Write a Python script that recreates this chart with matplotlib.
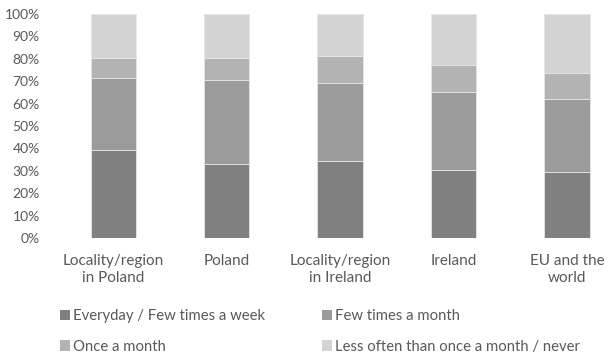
import matplotlib.pyplot as plt
from matplotlib.patches import Patch

categories = ["Locality/region\nin Poland", "Poland", "Locality/region\nin Ireland", "Ireland", "EU and the\nworld"]
everyday = [39.1, 32.9, 34.2, 30.5, 29.6]
few_month = [32.2, 37.8, 34.8, 34.5, 32.3]
once_month = [9.1, 9.7, 12.4, 12.2, 11.9]
less_often = [19.6, 19.6, 18.6, 22.8, 26.2]
series_names = ["Everyday / Few times a week", "Few times a month",
                "Once a month", "Less often than once a month / never"]
colors = ["#808080", "#9b9b9b", "#b3b3b3", "#d3d3d3"]

plt.rcParams['font.family'] = ['Lato', 'DejaVu Sans']
text_col = "#595959"

fig = plt.figure(figsize=(6.1, 3.57), dpi=100)
ax = fig.add_axes([56.5 / 610, 1 - 238 / 357, 1 - 56.5 / 610, 224 / 357])

x = list(range(len(categories)))
bottom = [0] * len(categories)
for vals, col in zip([everyday, few_month, once_month, less_often], colors):
    ax.bar(x, vals, width=0.40, bottom=bottom, color=col, edgecolor="#e6e6e6", linewidth=0.6)
    bottom = [b + v for b, v in zip(bottom, vals)]

ax.set_xlim(-0.5, 4.38)
ax.set_ylim(0, 100)
ax.set_yticks(range(0, 101, 10))
ax.set_yticklabels([f"{t}%" for t in range(0, 101, 10)], color=text_col, fontsize=10)
ax.set_xticks(x)
ax.set_xticklabels(categories, color=text_col, fontsize=11, linespacing=1.3)
ax.tick_params(axis='y', length=0, pad=12)
ax.tick_params(axis='x', length=0, pad=11.5)
for s in ax.spines.values():
    s.set_visible(False)

handles = [Patch(facecolor=c) for c in colors]
order = [0, 2, 1, 3]
leg = fig.legend([handles[i] for i in order], [series_names[i] for i in order],
                 loc="upper left", bbox_to_anchor=(47 / 610, 1 - 296 / 357), ncol=2,
                 frameon=False, fontsize=10.7, handlelength=0.68, handleheight=0.68,
                 handletextpad=0.2, columnspacing=3.8, labelspacing=1.1)
for t in leg.get_texts():
    t.set_color(text_col)

fig.savefig("out.png", dpi=100)
